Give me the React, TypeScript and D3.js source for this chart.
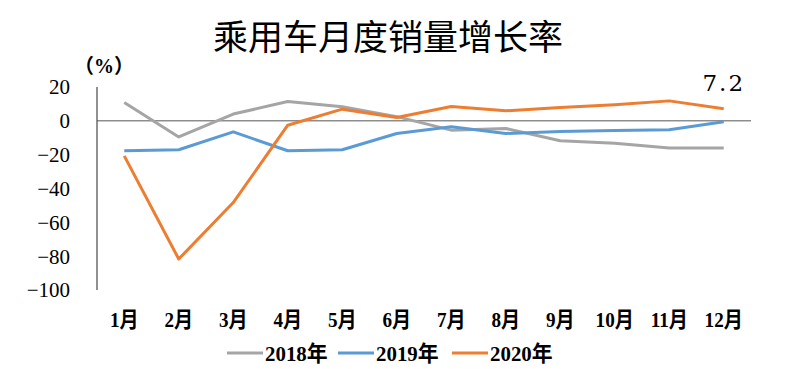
import React from 'react';
import * as d3 from 'd3';

const months = ['1月', '2月', '3月', '4月', '5月', '6月', '7月', '8月', '9月', '10月', '11月', '12月'];
const s2018 = [10.8, -9.5, 4, 11.4, 8.3, 2.5, -5.5, -4.5, -11.8, -13.2, -16.1, -16];
const s2019 = [-17.7, -17.1, -6.5, -17.7, -17.1, -7.5, -3.5, -7.5, -6.3, -5.7, -5.3, -0.6];
const s2020 = [-20.7, -81.7, -48.3, -2.6, 6.9, 2, 8.5, 5.9, 7.9, 9.5, 11.8, 7.2];
const yTicks = [20, 0, -20, -40, -60, -80, -100];

const series = [
  { name: '2018年', values: s2018, color: '#a5a5a5' },
  { name: '2019年', values: s2019, color: '#5b9bd5' },
  { name: '2020年', values: s2020, color: '#ed7d31' },
];

const serif = "'Liberation Serif', 'Noto Sans CJK SC', serif";

export default function App() {
  const x = d3.scaleBand().domain(months).range([97, 751]);
  const y = d3.scaleLinear().domain([-100, 20]).range([290, 87]);
  const cx = (m: string) => (x(m) as number) + x.bandwidth() / 2;

  const line = d3.line<number>()
    .x((_, i) => cx(months[i]))
    .y(v => y(v));

  const last = s2020[s2020.length - 1];
  const legendX = [227, 338, 452];

  return (
    <svg width={788} height={369} style={{ position: 'absolute', left: 0, top: 0, background: '#fff' }}>
      <text x={388} y={50} textAnchor="middle" fontSize={35} fontFamily="'Noto Sans CJK SC', sans-serif" fill="#000">
        乘用车月度销量增长率
      </text>
      <text x={104} y={66} dy="0.35em" textAnchor="middle" fontSize={20} fontFamily={serif} fontWeight="bold" fill="#000">（%）</text>

      {yTicks.map(t => (
        <text key={t} x={70} y={y(t)} dy="0.35em" textAnchor="end" fontSize={21} fontFamily={serif} fill="#000">
          {t < 0 ? '−' + Math.abs(t) : String(t)}
        </text>
      ))}

      <line x1={97} x2={97} y1={y(20)} y2={y(-100)} stroke="#222" strokeWidth={1} />
      <line x1={97} x2={751} y1={y(0)} y2={y(0)} stroke="#555" strokeWidth={1} />

      {months.map(m => (
        <text key={m} transform={`translate(${cx(m)},319) scale(0.87,1)`} dy="0.35em" textAnchor="middle" fontSize={22} fontWeight="bold" fontFamily={serif} fill="#000">
          {m}
        </text>
      ))}

      {series.map(s => (
        <path key={s.name} d={line(s.values) || ''} fill="none" stroke={s.color} strokeWidth={3} strokeLinejoin="round" />
      ))}

      <text x={cx(months[11])} y={y(last) + 2 - 20} textAnchor="middle" fontSize={23} fontFamily="'DejaVu Serif', serif" fill="#000" letterSpacing={2}>
        {last.toFixed(1)}
      </text>

      {series.map((s, i) => {
        const lx = legendX[i];
        return (
          <g key={s.name}>
            <line x1={lx} x2={lx + 36} y1={353} y2={353} stroke={s.color} strokeWidth={3} />
            <text transform={`translate(${lx + 38},353) scale(0.95,1)`} dy="0.35em" fontSize={22} fontWeight="bold" fontFamily={serif} fill="#000">{s.name}</text>
          </g>
        );
      })}
    </svg>
  );
}
